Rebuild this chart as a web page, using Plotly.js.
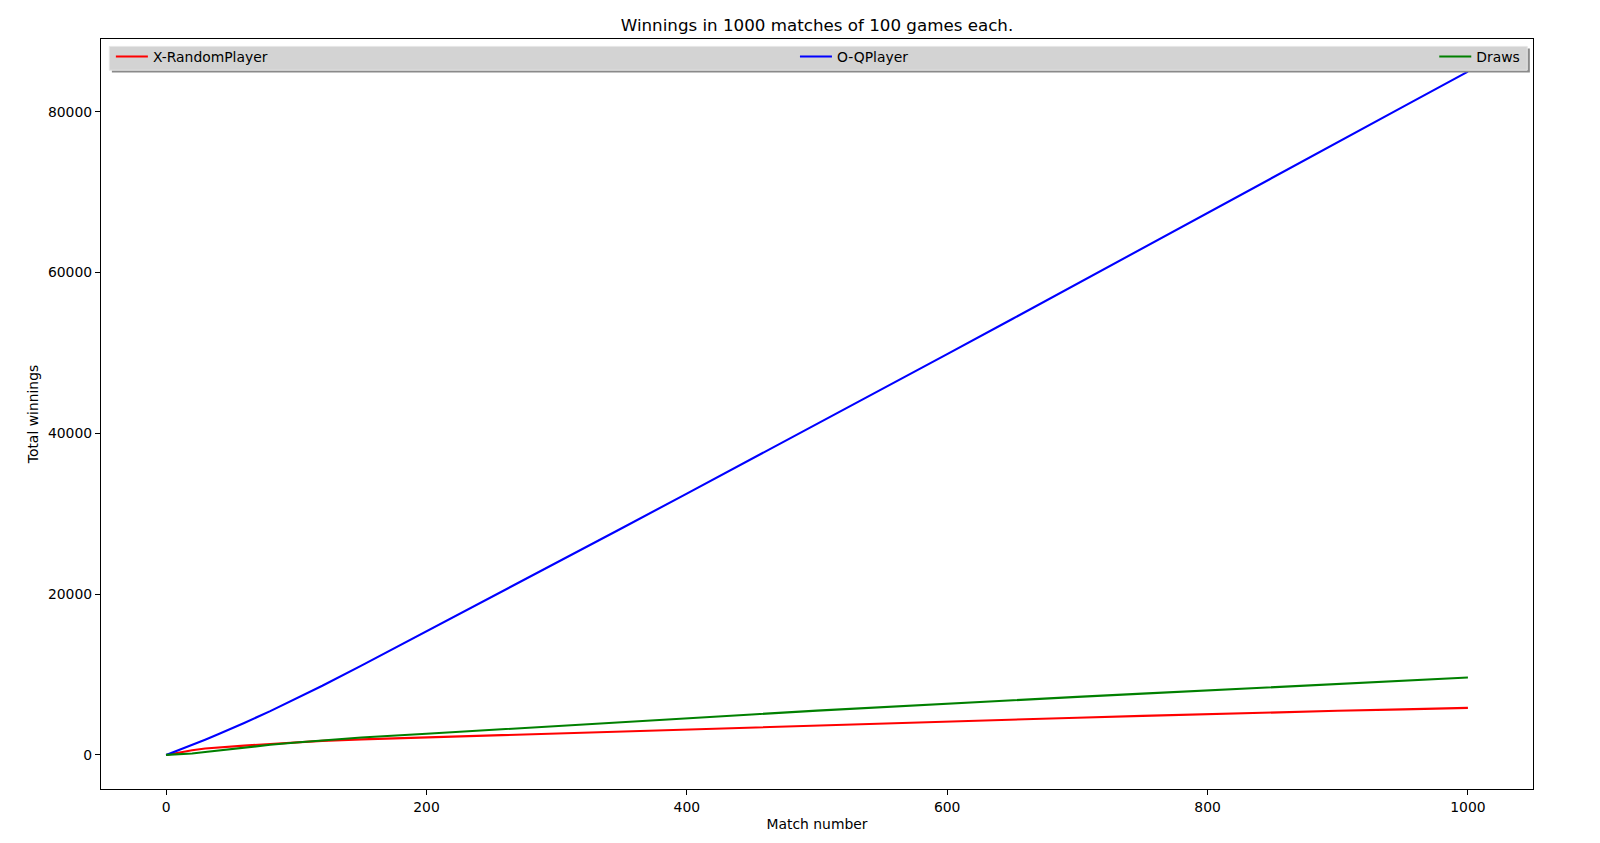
<!DOCTYPE html>
<html>
<head>
<meta charset="utf-8">
<script src="https://cdn.plot.ly/plotly-3.0.1.min.js"></script>
<style>html,body{margin:0;padding:0;background:#fff;}#chart{width:1600px;height:843px;}</style>
</head>
<body>
<div id="chart"></div>
<script>
// Data
const matchNumbers = [0,10,20,30,40,50,60,80,100,120,150,200,250,300,350,400,450,500,550,600,650,700,750,800,850,900,950,1000];
const xRandomPlayer = [0,300,570,790,940,1055,1155,1355,1565,1750,1930,2180,2440,2690,2945,3205,3455,3715,3970,4190,4420,4630,4850,5080,5295,5485,5665,5850];
const oQPlayer = [0,610,1240,1890,2560,3250,3970,5450,7000,8600,11100,15350,19625,23900,28200,32500,36820,41150,45490,49850,54220,58600,62990,67400,71800,76200,80600,85000];
const draws = [0,60,180,360,540,725,915,1255,1535,1800,2160,2630,3125,3605,4090,4560,5030,5505,5955,6390,6810,7220,7625,8025,8430,8830,9220,9620];
const seriesNames = ["X-RandomPlayer", "O-QPlayer", "Draws"];
const xTicks = [0,200,400,600,800,1000];
const yTicks = [0,20000,40000,60000,80000];

const font = {family: "DejaVu Sans, sans-serif", size: 13.9, color: "#000"};

const traces = [
  {x: matchNumbers, y: xRandomPlayer, name: seriesNames[0], mode: "lines", line: {color: "red", width: 2.1}, legend: "legend"},
  {x: matchNumbers, y: oQPlayer, name: seriesNames[1], mode: "lines", line: {color: "blue", width: 2.1}, legend: "legend2"},
  {x: matchNumbers, y: draws, name: seriesNames[2], mode: "lines", line: {color: "green", width: 2.1}, legend: "legend3"}
];

const legendBase = {bgcolor: "rgba(0,0,0,0)", borderwidth: 0, font: font, yref: "paper", xref: "paper", y: 0.976, yanchor: "middle", orientation: "h", itemwidth: 32};

const axisBase = {
  showline: true, linecolor: "#000", linewidth: 1.1, mirror: true,
  ticks: "outside", ticklen: 5, tickwidth: 1.1, tickcolor: "#000",
  showgrid: false, zeroline: false, tickfont: font, tickformat: "d"
};

const layout = {
  width: 1600, height: 843,
  margin: {l: 101, r: 67, t: 39, b: 54, pad: 0},
  paper_bgcolor: "#fff", plot_bgcolor: "#fff",
  font: font,
  title: {text: "Winnings in 1000 matches of 100 games each.", font: {family: font.family, size: 16.7, color: "#000"}, x: 0.5, xref: "paper", xanchor: "center", y: 1 - 25.5/843, yref: "container", yanchor: "middle"},
  xaxis: Object.assign({}, axisBase, {range: [-50, 1050], tickvals: xTicks, title: {text: "Match number", font: font, standoff: 5}}),
  yaxis: Object.assign({}, axisBase, {range: [-4240, 89050], tickvals: yTicks, title: {text: "Total winnings", font: font, standoff: 6}}),
  showlegend: true,
  legend: Object.assign({}, legendBase, {x: 0.0069, xanchor: "left"}),
  legend2: Object.assign({}, legendBase, {x: 0.4846, xanchor: "left"}),
  legend3: Object.assign({}, legendBase, {x: 0.9946, xanchor: "right"}),
  shapes: [
    {type: "rect", xref: "paper", yref: "paper", x0: 0.0076, x1: 0.9978, y0: 0.9555, y1: 0.9875, fillcolor: "#8a8a8a", line: {width: 0}, layer: "above"},
    {type: "rect", xref: "paper", yref: "paper", x0: 0.0058, x1: 0.9960, y0: 0.9584, y1: 0.9901, fillcolor: "#d3d3d3", line: {color: "#e6e6e6", width: 1}, layer: "above"}
  ]
};

Plotly.newPlot("chart", traces, layout, {displayModeBar: false, staticPlot: true});
</script>
</body>
</html>
